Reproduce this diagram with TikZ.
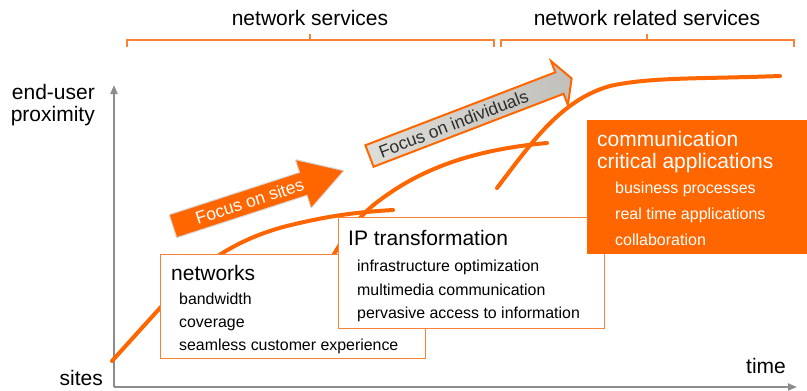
\documentclass[tikz,border=0pt]{standalone}
\usepackage{fontspec}
\setmainfont{Liberation Sans}
\usetikzlibrary{arrows.meta}
\definecolor{brand}{RGB}{255,102,0}
\definecolor{brandline}{RGB}{250,130,55}
\definecolor{axisgray}{RGB}{140,140,140}
\definecolor{arrowgrayA}{RGB}{222,221,216}
\definecolor{arrowgrayB}{RGB}{194,192,186}
\definecolor{darktext}{RGB}{45,45,45}
\begin{document}
\begin{tikzpicture}[x=1pt,y=-1pt,
  bigtext/.style={font=\fontsize{21}{25}\selectfont, inner sep=0pt, anchor=base west},
  smalltext/.style={font=\fontsize{15.9}{18}\selectfont, inner sep=0pt, anchor=base west},
  itemtext/.style={font=\fontsize{16}{19}\selectfont, inner sep=0pt, anchor=base west, text=white},
  arrowtext/.style={font=\fontsize{17.5}{20}\selectfont, inner sep=0pt, transform shape},
  curve/.style={draw=brand, line width=4pt, line cap=round},
  bracket/.style={draw=brandline, line width=1.3pt},
  axis/.style={draw=axisgray, line width=2pt, -{Triangle[length=9pt,width=7pt]}},
  whitebox/.style={draw=brandline, line width=1.4pt, fill=white, inner sep=0pt, anchor=north west},
  fullbox/.style={fill=brand, inner sep=0pt, anchor=north west},
]
\useasboundingbox (0,0) rectangle (807,391);

% axes
\coordinate (origin) at (114,387);
\coordinate (ytop) at (114,85);
\coordinate (xend) at (797,387);
\draw[axis] (origin) -- (ytop);
\draw[axis] (origin) -- (xend);

\node[bigtext, anchor=base east] (eu) at (95,99) {end-user};
\node[bigtext, anchor=base east] (prox) at (95,121) {proximity};
\node[bigtext, anchor=base east] (sites) at (103,385) {sites};
\node[bigtext] (time) at (746,373) {time};

% service brackets
\draw[bracket] (127,47) -- (127,40) -- (494,40) -- (494,47) (310,40) -- (310,34);
\draw[bracket] (501,47) -- (501,40) -- (794,40) -- (794,47) (647,40) -- (647,34);
\node[bigtext, anchor=base] (svcA) at (310,25) {network services};
\node[bigtext, anchor=base] (svcB) at (647,25) {network related services};

% focus arrows
\begin{scope}[shift={(173.5,226)}, rotate=18]
  \path[fill=brand, preaction={draw=black!15, line width=2.4pt, line join=round}]
    (0,-11.5) -- (137,-11.5) -- (137,-24.5) -- (178,0) -- (137,24.5) -- (137,11.5) -- (0,11.5) -- cycle;
  \node[arrowtext, text=white] (fsites) at (80,0) {Focus on sites};
\end{scope}
\begin{scope}[shift={(369.5,156)}, rotate=21]
  \path[draw=brand, line width=2pt, line join=miter, left color=arrowgrayA, right color=arrowgrayB]
    (0,-11.5) -- (203.5,-11.5) -- (203.5,-23.5) -- (216.5,0) -- (203.5,23.5) -- (203.5,11.5) -- (0,11.5) -- cycle;
  \node[arrowtext, text=darktext] (findiv) at (90,0) {Focus on individuals};
\end{scope}

% growth curves
\draw[curve] (112,361) -- (160,308) .. controls (190,275) and (222,244) .. (283,227)
  .. controls (330,215) and (360,212) .. (393,210);
\draw[curve] (305,310) .. controls (325,270) and (345,225) .. (380,200)
  .. controls (420,170) and (470,150) .. (547,143);
\draw[curve] (497,188) .. controls (530,145) and (560,100) .. (610,86)
  .. controls (650,77) and (700,79) .. (780,76);

% networks
\node[whitebox, minimum width=265pt, minimum height=104pt] (netbox) at (160,254) {};
\node[bigtext] (nettitle) at (171,280) {networks};
\node[smalltext] (n1) at (179,304) {bandwidth};
\node[smalltext] (n2) at (179,327) {coverage};
\node[smalltext] (n3) at (179,350) {seamless customer experience};

% IP transformation
\node[whitebox, minimum width=266pt, minimum height=111pt] (ipbox) at (338,217) {};
\node[bigtext] (iptitle) at (348,245) {IP transformation};
\node[smalltext] (i1) at (357,271) {infrastructure optimization};
\node[smalltext] (i2) at (357,295) {multimedia communication};
\node[smalltext] (i3) at (357,318) {pervasive access to information};

% communication critical applications
\node[fullbox, minimum width=222pt, minimum height=134pt] (ccabox) at (587,120) {};
\node[bigtext, text=white] (ccat1) at (597,146) {communication};
\node[bigtext, text=white] (ccat2) at (597,168) {critical applications};
\node[itemtext] (c1) at (615,193) {business processes};
\node[itemtext] (c2) at (615,219) {real time applications};
\node[itemtext] (c3) at (615,245) {collaboration};
\end{tikzpicture}
\end{document}
